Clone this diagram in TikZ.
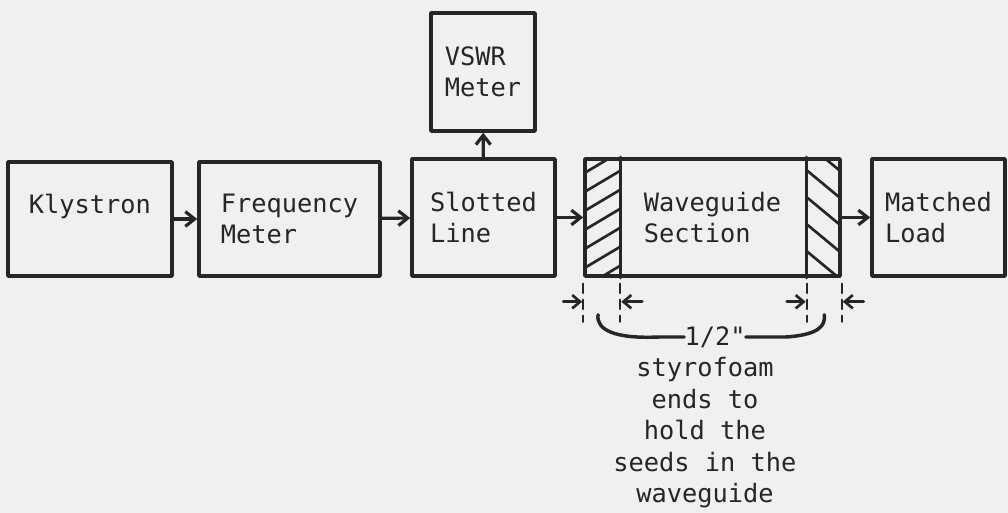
\documentclass[tikz,border=0pt]{standalone}
\usepackage{fontspec}
\setmonofont{DejaVu Sans Mono}
\usetikzlibrary{arrows.meta,calc}

\tikzset{
  unit/.style={draw, line width=2.6pt, inner sep=0pt, align=left,
    font=\ttfamily\fontsize{19}{23.4}\selectfont},
  flow/.style={line width=2.4pt, -{Straight Barb[length=7pt,width=11pt,line width=2.4pt]}},
  dim/.style={line width=2pt, -{Straight Barb[length=6pt,width=10pt,line width=2pt]}},
  ext/.style={line width=1.8pt, dash pattern=on 7pt off 5pt},
  hatch/.style={line width=2pt},
  caption/.style={align=center, inner sep=0pt, font=\ttfamily\fontsize{19}{23.6}\selectfont},
}

\begin{document}
\begin{tikzpicture}[x=0.75pt, y=-0.75pt, >=stealth, color=black!85, line join=round, line cap=round]
        \fill[black!6] (0,0) rectangle (1008,513);
        \useasboundingbox (0,0) rectangle (1008,513);
        % blocks
        \node[unit, minimum width=123pt, minimum height=85.5pt] (kly) at (90,219) {Klystron\\~};
        \node[unit, minimum width=135.75pt, minimum height=85.5pt] (freq) at (289.5,219) {Frequency\\Meter};
        \node[unit, minimum width=107.25pt, minimum height=87.75pt] (slot) at (483.5,217.5) {Slotted\\Line};
        \node[unit, minimum width=78pt, minimum height=88.5pt] (vswr) at (483,72) {VSWR\\Meter};
        \node[unit, minimum width=191.25pt, minimum height=87.75pt] (wg) at (712.5,217.5) {Waveguide\\Section};
        \node[unit, minimum width=99.75pt, minimum height=87.75pt] (load) at (938.5,217.5) {Matched\\Load};
        % styrofoam ends
        \coordinate (d1) at (wg.south west);
        \coordinate (d2) at ($(wg.south west)+(37,0)$);
        \coordinate (d3) at ($(wg.south east)+(-35,0)$);
        \coordinate (d4) at (wg.south east);
        \draw[line width=2.6pt] (d2) -- (d2 |- wg.north);
        \draw[line width=2.6pt] (d3) -- (d3 |- wg.north);
        \begin{scope}
          \clip (d1) rectangle (d2 |- wg.north);
          \foreach \k in {0,...,7}
            \draw[hatch] ($(d1)+(0,10-\k*19)$) -- ++(37,-22);
        \end{scope}
        \begin{scope}
          \clip (d3) rectangle (wg.north east);
          \foreach \k in {0,...,5}
            \draw[hatch] ($(d3 |- wg.north)+(0,-14+\k*27)$) -- ++(35,29);
        \end{scope}
        % signal path
        \draw[flow] (kly) -- (freq);
        \draw[flow] (freq) -- (slot);
        \draw[flow] (slot) -- (vswr);
        \draw[flow] (slot) -- (wg);
        \draw[flow] (wg) -- (load);
        % thickness marks
        \foreach \p in {d1,d2,d3,d4}
          \draw[ext] ($(\p)+(0,6)$) -- ++(0,38);
        \draw[dim] ($(d1)+(-20,24)$) -- ($(d1)+(-1,24)$);
        \draw[dim] ($(d2)+(22,24)$) -- ($(d2)+(1,24)$);
        \draw[dim] ($(d3)+(-20,24)$) -- ($(d3)+(-1,24)$);
        \draw[dim] ($(d4)+(22,24)$) -- ($(d4)+(1,24)$);
        \node[caption] (half) at (715,337) {1/2"};
        \coordinate (bl) at ($(d1)!0.4!(d2)+(0,37)$);
        \coordinate (br) at ($(d3)!0.5!(d4)+(0,37)$);
        \draw[line width=2.6pt] (half.west) -- ++(-25,0) .. controls (615,339) and (596,330) .. (bl);
        \draw[line width=2.6pt] (half.east) -- ++(40,0) .. controls (818,335) and (826,326) .. (br);
        \node[caption] (note) at (705,433) {styrofoam\\ends to\\hold the\\seeds in the\\waveguide};
\end{tikzpicture}
\end{document}
